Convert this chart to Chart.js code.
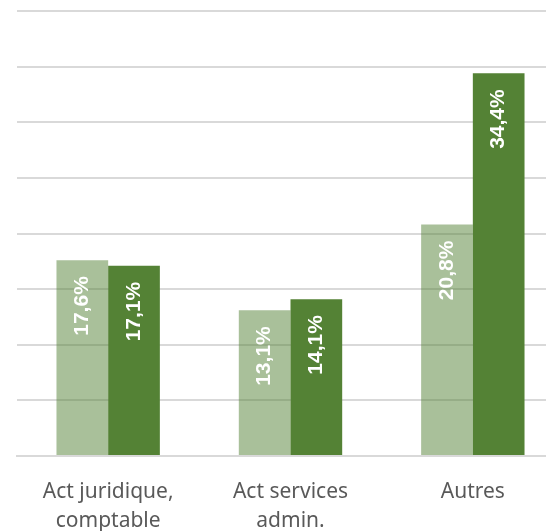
<!DOCTYPE html>
<html>
<head>
<meta charset="utf-8">
<script src="https://cdn.jsdelivr.net/npm/chart.js@4/dist/chart.umd.min.js"></script>
<style>
  html, body { margin: 0; padding: 0; background: #fff; }
  #wrap { width: 546px; height: 531px; overflow: hidden; }
</style>
</head>
<body>
<div id="wrap">
  <canvas id="activites" width="566" height="531"></canvas>
</div>
<script>
var categories = [['Act juridique,', 'comptable'], ['Act services', 'admin.'], 'Autres'];
var serie1 = [17.6, 13.1, 20.8];
var serie2 = [17.1, 14.1, 34.4];

// labels blancs, verticaux, en haut de chaque barre
var barLabels = {
    id: 'barLabels',
    afterDatasetsDraw: function(chart) {
        var ctx = chart.ctx;
        chart.data.datasets.forEach(function(ds, i) {
            var meta = chart.getDatasetMeta(i);
            meta.data.forEach(function(bar, j) {
                var txt = ds.data[j].toFixed(1).replace('.', ',') + '%';
                ctx.save();
                ctx.translate(bar.x, bar.y + 16);
                ctx.rotate(-Math.PI / 2);
                ctx.font = 'bold 21px "Liberation Sans", sans-serif';
                ctx.fillStyle = '#ffffff';
                ctx.textAlign = 'right';
                ctx.textBaseline = 'middle';
                ctx.fillText(txt, 0, 0);
                ctx.restore();
            });
        });
    }
};

var ctx = document.getElementById('activites');
var chart = new Chart(ctx, {
    type: 'bar',
    data: {
        labels: categories,
        datasets: [
            {
                label: 'Série 1',
                backgroundColor: 'rgba(84,130,53,0.5)',
                data: serie1
            },
            {
                label: 'Série 2',
                backgroundColor: '#548235',
                data: serie2
            }
        ]
    },
    options: {
        responsive: false,
        animation: false,
        layout: {
            padding: { top: 11, left: 17, right: 2, bottom: 0 }
        },
        plugins: {
            legend: { display: false },
            tooltip: { enabled: false }
        },
        datasets: {
            bar: {
                categoryPercentage: 0.567,
                barPercentage: 1
            }
        },
        scales: {
            x: {
                grid: { display: false },
                border: { display: true, color: '#d9d9d9', width: 2 },
                ticks: {
                    color: '#595959',
                    padding: 14,
                    maxRotation: 0,
                    font: { family: 'Noto Sans', size: 21, lineHeight: 1.35 }
                },
                afterFit: function(scale) { scale.height = 75; }
            },
            y: {
                min: 0,
                max: 40,
                ticks: { display: false, stepSize: 5 },
                grid: { color: '#d9d9d9', lineWidth: 2, drawTicks: false },
                border: { display: false }
            }
        }
    },
    plugins: [barLabels]
});
</script>
</body>
</html>
